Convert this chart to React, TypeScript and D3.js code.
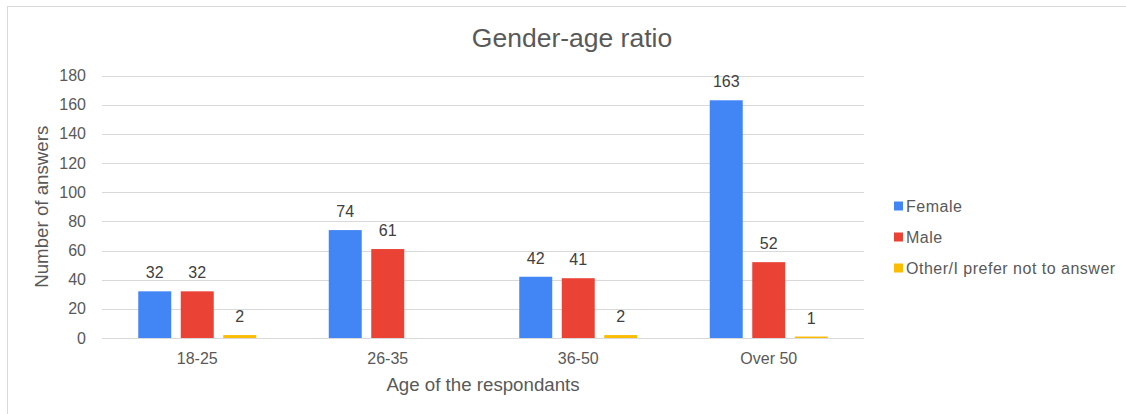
import React, { useEffect, useRef } from 'react';
import * as d3 from 'd3';

const categories = ['18-25', '26-35', '36-50', 'Over 50'];
const seriesNames = ['Female', 'Male', 'Other/I prefer not to answer'];
const female = [32, 74, 42, 163];
const male = [32, 61, 41, 52];
const other = [2, 0, 2, 1];
const yTicks = [0, 20, 40, 60, 80, 100, 120, 140, 160, 180];
const colors = ['#4285F4', '#EA4335', '#FBBC04'];

const FONT = '"Liberation Sans", Arial, sans-serif';

export default function App() {
  const svgRef = useRef<SVGSVGElement>(null);

  useEffect(() => {
    const svg = d3.select(svgRef.current);
    svg.selectAll('*').remove();

    const W = 1126;
    const H = 414;
    const plot = { left: 102, right: 864, top: 75.5, bottom: 338 };
    const values = [female, male, other];

    // chart border
    svg.append('rect')
      .attr('x', 7.5).attr('y', 6.5)
      .attr('width', W + 10).attr('height', H + 10)
      .attr('fill', '#fff').attr('stroke', '#d9d9d9').attr('stroke-width', 1);

    const y = d3.scaleLinear().domain([0, 180]).range([plot.bottom, plot.top]);
    const x0 = d3.scaleBand<string>()
      .domain(categories)
      .range([plot.left, plot.right])
      .paddingInner(0.3806)
      .paddingOuter(0.1903);
    const x1 = d3.scaleBand<string>()
      .domain(seriesNames)
      .range([0, x0.bandwidth()])
      .paddingInner(0.224)
      .paddingOuter(0);

    // gridlines
    svg.append('g').selectAll('line')
      .data(yTicks)
      .enter()
      .append('line')
      .attr('x1', plot.left).attr('x2', plot.right)
      .attr('y1', d => Math.round(y(d)) + 0.5).attr('y2', d => Math.round(y(d)) + 0.5)
      .attr('stroke', '#d9d9d9').attr('stroke-width', 1);

    // y tick labels
    svg.append('g').selectAll('text')
      .data(yTicks)
      .enter()
      .append('text')
      .attr('x', 86).attr('y', d => y(d))
      .attr('dy', '0.35em')
      .attr('text-anchor', 'end')
      .style('font-family', FONT).style('font-size', '16px')
      .attr('fill', '#595959')
      .text(d => d);

    // bars + labels
    seriesNames.forEach((name, si) => {
      const g = svg.append('g');
      const data = categories.map((c, i) => ({ c, v: values[si][i] }));
      g.selectAll('rect')
        .data(data)
        .enter()
        .append('rect')
        .attr('x', d => (x0(d.c) ?? 0) + (x1(name) ?? 0))
        .attr('y', d => y(d.v))
        .attr('width', x1.bandwidth())
        .attr('height', d => y(0) - y(d.v))
        .attr('fill', colors[si]);
      g.selectAll('text')
        .data(data.filter(d => d.v > 0))
        .enter()
        .append('text')
        .attr('x', d => (x0(d.c) ?? 0) + (x1(name) ?? 0) + x1.bandwidth() / 2)
        .attr('y', d => y(d.v) - 13)
        .attr('text-anchor', 'middle')
        .style('font-family', FONT).style('font-size', '16px')
        .attr('fill', '#404040')
        .text(d => d.v);
    });

    // x tick labels
    svg.append('g').selectAll('text')
      .data(categories)
      .enter()
      .append('text')
      .attr('x', d => (x0(d) ?? 0) + x0.bandwidth() / 2)
      .attr('y', 364)
      .attr('text-anchor', 'middle')
      .style('font-family', FONT).style('font-size', '16px')
      .attr('fill', '#595959')
      .text(d => d);

    // title
    svg.append('text')
      .attr('x', 572).attr('y', 47)
      .attr('text-anchor', 'middle')
      .style('font-family', FONT).style('font-size', '26.5px')
      .attr('fill', '#595959')
      .text('Gender-age ratio');

    // axis titles
    svg.append('text')
      .attr('x', 483).attr('y', 391)
      .attr('text-anchor', 'middle')
      .style('font-family', FONT).style('font-size', '18.7px')
      .attr('fill', '#595959')
      .text('Age of the respondants');

    svg.append('text')
      .attr('transform', `translate(48, ${(plot.top + plot.bottom) / 2}) rotate(-90)`)
      .attr('text-anchor', 'middle')
      .style('font-family', FONT).style('font-size', '18.7px')
      .attr('fill', '#595959')
      .text('Number of answers');

    // legend
    const legend = svg.append('g').selectAll('g')
      .data(seriesNames)
      .enter()
      .append('g')
      .attr('transform', (d, i) => `translate(894, ${201.5 + i * 31})`);
    legend.append('rect')
      .attr('width', 9).attr('height', 9)
      .attr('fill', (d, i) => colors[i]);
    legend.append('text')
      .attr('x', 12).attr('y', 10.5)
      .style('font-family', FONT).style('font-size', '16px')
      .style('letter-spacing', '0.5px')
      .attr('fill', '#595959')
      .text(d => d);
  }, []);

  return (
    <svg
      ref={svgRef}
      width={1126}
      height={414}
      style={{ position: 'absolute', left: 0, top: 0, background: '#fff' }}
    />
  );
}
